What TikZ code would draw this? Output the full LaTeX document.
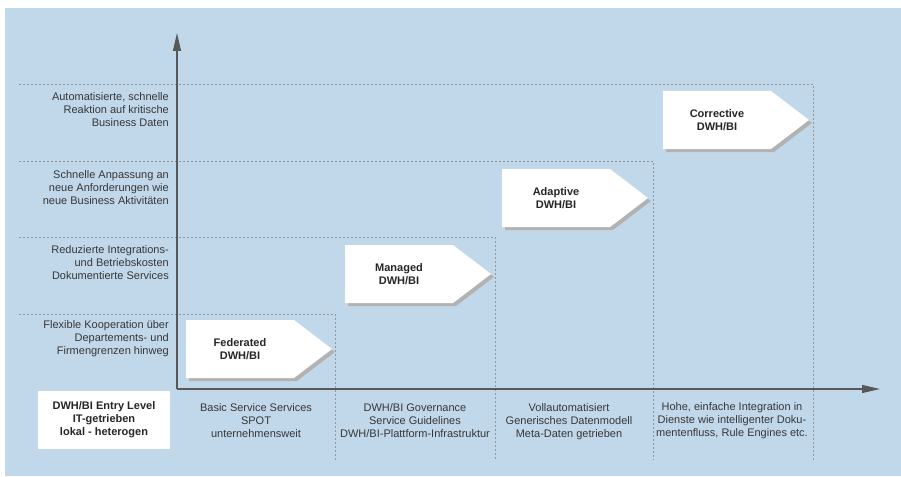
\documentclass[tikz,border=0pt]{standalone}
\usepackage{fontspec}
\setmainfont{Liberation Sans}
\usetikzlibrary{arrows.meta}

\definecolor{hgblau}{RGB}{193,216,234}
\definecolor{achsgrau}{RGB}{88,88,88}
\definecolor{punktgrau}{RGB}{150,150,150}
\definecolor{schattengrau}{RGB}{178,178,178}
\definecolor{textgrau}{RGB}{55,55,55}

\tikzset{
  achse/.style={draw=achsgrau, line width=1.1pt, -{Triangle[length=18pt,width=8pt]}},
  raster/.style={draw=punktgrau, line width=0.7pt, dash pattern=on 2pt off 2pt},
  beschr/.style={inner sep=0pt, text=textgrau, font=\fontsize{11}{13}\selectfont},
  stufe/.style={inner sep=0pt, text=black!85, align=center, font=\fontsize{11}{13}\selectfont\bfseries},
  schatten/.style={fill=schattengrau},
}

\begin{document}
\begin{tikzpicture}[x=1pt,y=-1pt]
\useasboundingbox (0,0) rectangle (901,476);
\fill[hgblau] (5,8) rectangle (901,476);
% Raster
\foreach \y/\x in {84/813, 161/653, 237/495, 314/335}
    \draw[raster] (19,\y) -- (\x,\y) -- (\x,460);
% Achsen
\coordinate (O) at (177,389);
\coordinate (ytop) at (177,33);
\coordinate (xend) at (880,389);
\draw[achse] (O) -- (ytop);
\draw[achse] (O) -- (xend);
% Stufen
\foreach \nm/\x/\y/\txt in {fed/186/320/Federated, man/345/245/Managed, ada/502/169/Adaptive, cor/663/91/Corrective} {
    \fill[schatten] (\x+3,\y+3) -- ++(108,0) -- ++(38,29) -- ++(-38,29) -- ++(-108,0) -- cycle;
    \fill[white] (\x,\y) -- ++(108,0) -- ++(38,29) -- ++(-38,29) -- ++(-108,0) -- cycle;
    \node[stufe] (\nm) at (\x+54,\y+29) {\txt\\DWH/BI};
}
% Beschriftung links
\node[beschr, anchor=east, align=right] (l4) at (169,110) {Automatisierte, schnelle\\Reaktion auf kritische\\Business Daten};
\node[beschr, anchor=east, align=right] (l3) at (169,188) {Schnelle Anpassung an\\neue Anforderungen wie\\neue Business Aktivit\"aten};
\node[beschr, anchor=east, align=right] (l2) at (169,263) {Reduzierte Integrations-\\und Betriebskosten\\Dokumentierte Services};
\node[beschr, anchor=east, align=right] (l1) at (169,339) {Flexible Kooperation \"uber\\Departements- und\\Firmengrenzen hinweg};
% Beschriftung unten
\node[fill=white, inner sep=0pt, minimum width=132pt, minimum height=58pt] (entry) at (104,420) {};
\node[stufe] (entrytxt) at (entry) {DWH/BI Entry Level\\IT-getrieben\\lokal - heterogen};
\node[beschr, align=center] (u1) at (256,421) {Basic Service Services\\SPOT\\unternehmensweit};
\node[beschr, align=center] (u2) at (415,421) {DWH/BI Governance\\Service Guidelines\\DWH/BI-Plattform-Infrastruktur};
\node[beschr, align=center] (u3) at (569,422) {Vollautomatisiert\\Generisches Datenmodell\\Meta-Daten getrieben};
\node[beschr, align=center] (u4) at (732,421) {Hohe, einfache Integration in\\Dienste wie intelligenter Doku-\\mentenfluss, Rule Engines etc.};
\end{tikzpicture}
\end{document}
